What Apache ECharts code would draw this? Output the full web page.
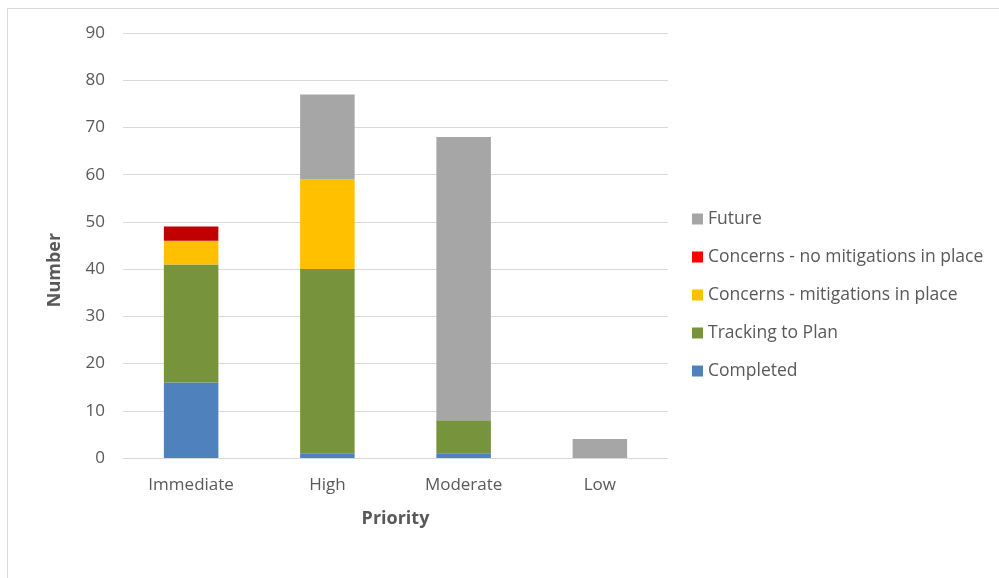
<!DOCTYPE html>
<html>
<head>
<meta charset="utf-8">
<style>
  html, body { margin: 0; padding: 0; background: #fff; }
  #frame { position: absolute; left: 7px; top: 8px; width: 1000px; height: 580px; border: 1px solid #d9d9d9; box-sizing: border-box; }
  #chart { position: absolute; left: 0; top: 0; width: 999px; height: 578px; }
</style>
<script src="https://cdn.jsdelivr.net/npm/echarts@6/dist/echarts.min.js"></script>
</head>
<body>
<div id="frame"></div>
<div id="chart"></div>
<script>
// 数据
const categories = ['Immediate', 'High', 'Moderate', 'Low']
const completed = [16, 1, 1, 0]
const tracking = [25, 39, 7, 0]
const mitigated = [5, 19, 0, 0]
const unmitigated = [3, 0, 0, 0]
const future = [0, 18, 60, 4]
const yTicks = [0, 10, 20, 30, 40, 50, 60, 70, 80, 90]

const FONT = '"Open Sans", Lato, sans-serif'
const TEXT = '#595959'

const seriesDefs = [
  { name: 'Completed', data: completed, color: '#4f81bd' },
  { name: 'Tracking to Plan', data: tracking, color: '#77933c' },
  { name: 'Concerns - mitigations in place', data: mitigated, color: '#ffc000' },
  { name: 'Concerns - no mitigations in place', data: unmitigated, color: '#c00000', legendColor: '#ff0000' },
  { name: 'Future', data: future, color: '#a6a6a6' },
]

const chart = echarts.init(document.getElementById('chart'))

chart.setOption({
  animation: false,
  textStyle: { fontFamily: FONT },
  grid: { left: 123, right: 331, top: 33, bottom: 120 },
  legend: {
    orient: 'vertical',
    left: 687,
    top: 204,
    itemWidth: 11,
    itemHeight: 11,
    itemGap: 18,
    icon: 'rect',
    data: seriesDefs.slice().reverse().map((s) => ({
      name: s.name,
      itemStyle: { color: s.legendColor || s.color },
    })),
    textStyle: { color: TEXT, fontSize: 17.5, fontFamily: FONT, lineHeight: 20 },
  },
  // 纵轴标题单独放置（原图偏下）
  graphic: [{
    type: 'text',
    x: 55,
    y: 270,
    rotation: Math.PI / 2,
    style: {
      text: 'Number',
      fill: TEXT,
      font: 'bold 18px ' + FONT,
      align: 'center',
      verticalAlign: 'middle',
    },
  }],
  xAxis: {
    type: 'category',
    data: categories,
    name: 'Priority',
    nameLocation: 'middle',
    nameGap: 52,
    nameTextStyle: { color: TEXT, fontSize: 18, fontWeight: 'bold' },
    axisLine: { lineStyle: { color: '#d9d9d9', width: 1 } },
    axisTick: { show: false },
    axisLabel: { color: TEXT, fontSize: 17, margin: 19 },
  },
  yAxis: {
    type: 'value',
    min: yTicks[0],
    max: yTicks[yTicks.length - 1],
    interval: 10,
    axisLine: { show: false },
    axisTick: { show: false },
    axisLabel: { color: TEXT, fontSize: 17, margin: 18 },
    splitLine: { lineStyle: { color: '#d9d9d9', width: 1 } },
  },
  series: seriesDefs.map((s) => ({
    name: s.name,
    type: 'bar',
    stack: 'total',
    barWidth: '40%',
    data: s.data,
    itemStyle: { color: s.color },
  })),
})
</script>
</body>
</html>
